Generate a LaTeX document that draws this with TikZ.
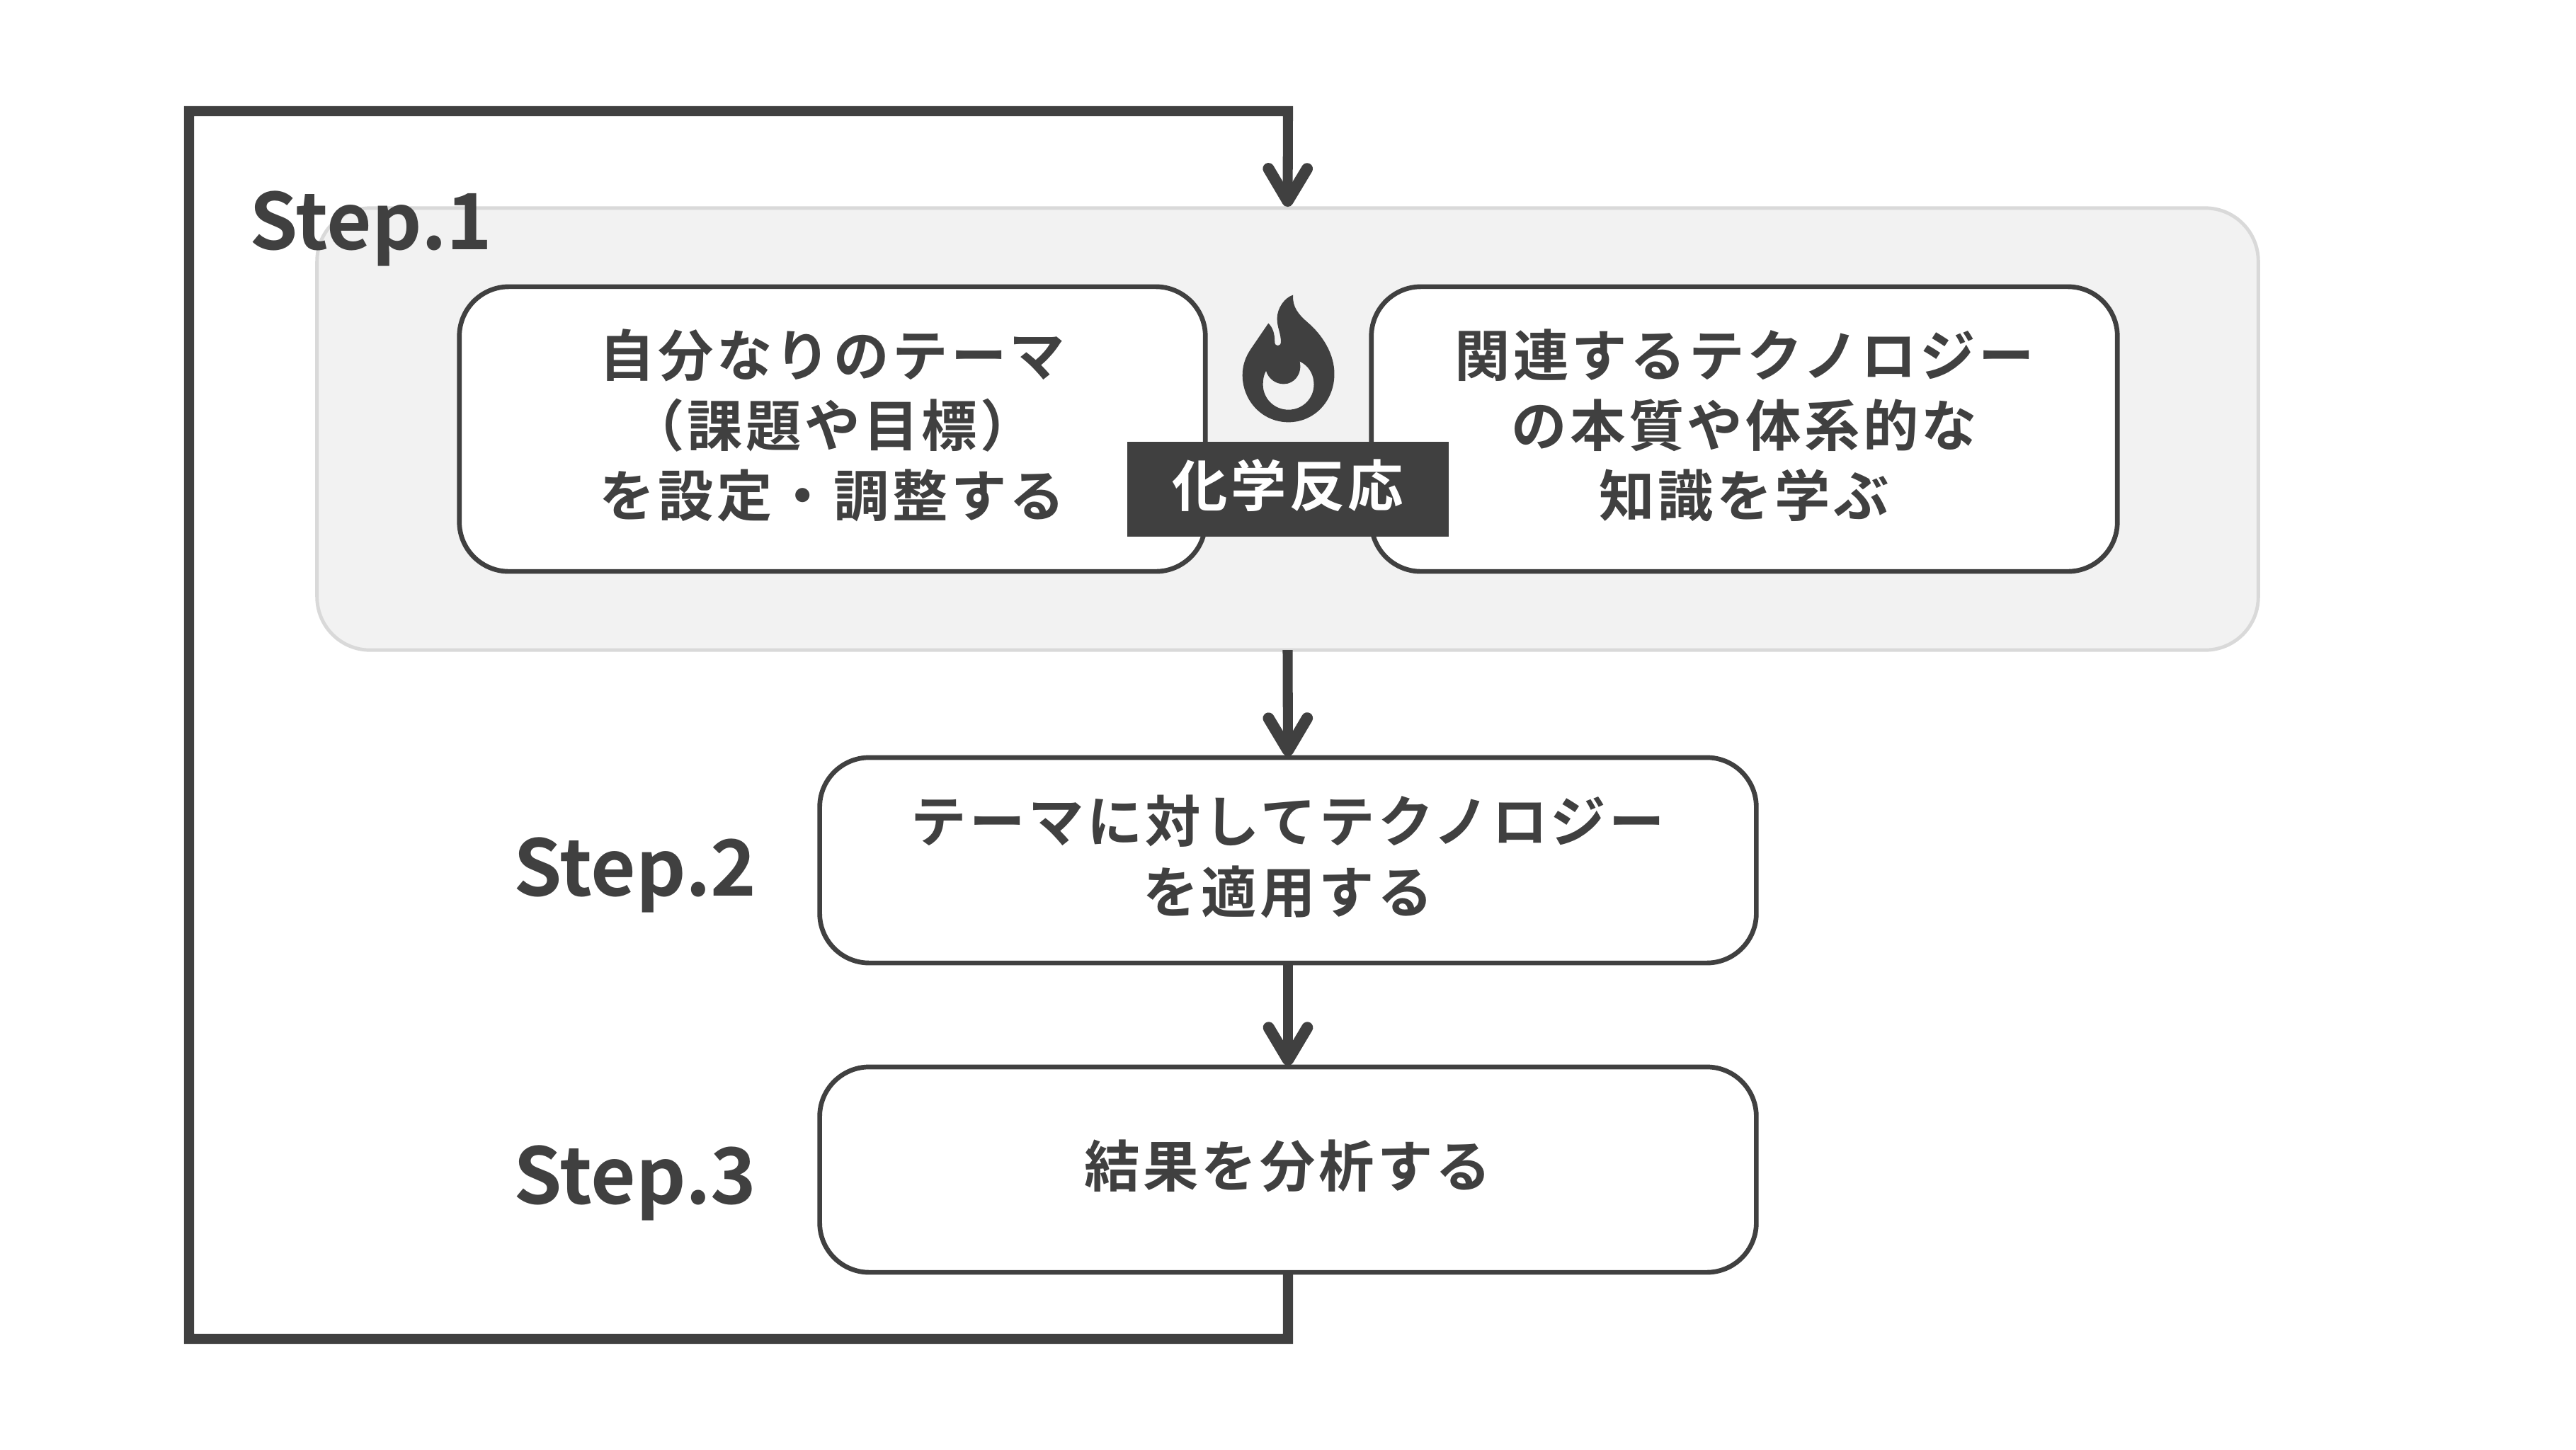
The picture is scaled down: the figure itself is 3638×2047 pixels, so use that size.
\documentclass[tikz,border=0pt]{standalone}
\usepackage{fontspec}
\setmainfont{Noto Sans CJK JP Bold}[LetterSpace=5.5]
\newfontfamily\stepfont{Noto Sans CJK JP Bold}
\usetikzlibrary{arrows.meta}
\definecolor{darkgray}{HTML}{404040}
\definecolor{panelgray}{HTML}{F2F2F2}
\definecolor{panelline}{HTML}{D9D9D9}
\begin{document}
\begin{tikzpicture}[x=0.01cm,y=-0.01cm,
        panelbox/.style={draw=panelline,fill=panelgray,line width=1.4pt,rounded corners=0.75cm,minimum width=27.4cm,minimum height=6.24cm,outer sep=0},
        stepbox/.style={draw=darkgray,fill=white,text=darkgray,line width=1.9pt,rounded corners=0.7cm,outer sep=0,align=center,text depth=5pt,font=\fontsize{22.3}{28.2}\selectfont},
        steplabel/.style={text=darkgray,anchor=base west,inner sep=0,font=\stepfont\fontsize{31.2}{32}\selectfont},
        flowtip/.tip={Straight Barb[length=13pt,width=15.5pt,line width=4.6pt,round]},
        flow/.style={draw=darkgray,line width=4pt,shorten >=0.5pt,-flowtip},
        loopline/.style={draw=darkgray,line width=4pt,line join=miter}]
        \useasboundingbox (0,0) rectangle (3638,2047);
        \node[panelbox] (panel) at (1818.5,606) {};
        \node[stepbox,minimum width=10.53cm,minimum height=4.02cm] (theme) at (1175.5,606) {自分なりのテーマ\\（課題や目標）\\を設定・調整する};
        \node[stepbox,minimum width=10.53cm,minimum height=4.02cm] (tech) at (2463.5,606) {関連するテクノロジー\\の本質や体系的な\\知識を学ぶ};
        \node[stepbox,minimum width=13.22cm,minimum height=2.9cm] (apply) at (1819,1215) {テーマに対してテクノロジー\\を適用する};
        \node[stepbox,minimum width=13.22cm,minimum height=2.9cm] (analyze) at (1819,1652) {結果を分析する};
        \node[fill=darkgray,text=white,inner sep=0,minimum width=4.54cm,minimum height=1.33cm,text depth=5pt,font=\fontsize{22.3}{28.2}\selectfont] (reaction) at (1819,691) {化学反応};
        \begin{scope}[shift={(1560,380)},x=0.003333cm,y=-0.003333cm]
        \fill[darkgray,even odd rule] (800,110) .. controls (795,160) and (825,195) .. (860,225)
                .. controls (925,280) and (975,360) .. (975,445)
                .. controls (975,560) and (890,650) .. (780,650)
                .. controls (670,650) and (585,560) .. (585,450)
                .. controls (585,405) and (600,370) .. (620,340)
                -- (695,230) .. controls (715,250) and (722,275) .. (722,310)
                .. controls (722,330) and (748,330) .. (748,310)
                .. controls (748,270) and (732,250) .. (732,210)
                .. controls (732,165) and (765,120) .. (800,110) -- cycle
                (685,432) .. controls (675,450) and (672,470) .. (672,490)
                .. controls (672,550) and (720,597) .. (780,597)
                .. controls (840,597) and (888,550) .. (888,490)
                .. controls (888,445) and (865,410) .. (828,392)
                .. controls (840,445) and (805,488) .. (760,488)
                .. controls (725,488) and (695,465) .. (685,432) -- cycle;
        \end{scope}
        \node[steplabel] (step1) at (352,352) {Step.1};
        \node[steplabel] (step2) at (725,1265) {Step.2};
        \node[steplabel] (step3) at (725,1700) {Step.3};
        \coordinate (loopbr) at (1819,1891);
        \coordinate (loopbl) at (267,1891);
        \coordinate (looptl) at (267,157);
        \coordinate (looptr) at (1819,157);
        \draw[flow] (panel.south) -- (apply.north);
        \draw[flow] (apply.south) -- (analyze.north);
        \draw[loopline,shorten >=0.5pt,-flowtip] (analyze.south) -- (loopbr) -- (loopbl) -- (looptl) -- (looptr) -- (panel.north);
\end{tikzpicture}
\end{document}
